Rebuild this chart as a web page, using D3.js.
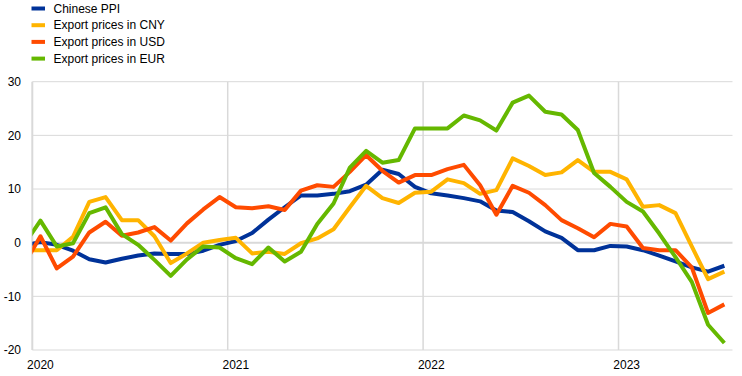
<!DOCTYPE html>
<html>
  <head>
    <meta charset="utf-8" />
    <script src="https://cdn.jsdelivr.net/npm/d3@7"></script>
    <style>
      body { margin: 0; background: #fff; }
      text { font-family: "Liberation Sans", Arial, sans-serif; font-size: 12px; fill: #000; }
      .grid line { stroke: #d9d9d9; }
      .line { fill: none; stroke-width: 4; stroke-linejoin: round; }
    </style>
  </head>
  <body>
    <div id="chart"></div>
    <script type="text/javascript">
// monthly, Dec 2019 .. Jul 2023 (Dec 2019 is only there so the line enters the left edge)
var months = d3.timeMonth.range(new Date(2019, 11, 1), new Date(2023, 7, 1));
var yearTicks = ["2020", "2021", "2022", "2023"];
var yTicks = [-20, -10, 0, 10, 20, 30];

var seriesNames = ["Chinese PPI", "Export prices in CNY", "Export prices in USD", "Export prices in EUR"];
var colors = ["#003299", "#ffb400", "#ff4b00", "#65b800"];

var ppi = [-0.5, 0.1, -0.4, -1.5, -3.1, -3.7, -3.0, -2.4, -2.0, -2.1, -2.1, -1.5, -0.4,
  0.3, 1.8, 4.3, 6.6, 8.8, 8.8, 9.1, 9.6, 10.8, 13.6, 12.8, 10.4,
  9.2, 8.8, 8.3, 7.7, 6.0, 5.7, 4.0, 2.1, 0.9, -1.4, -1.4, -0.6,
  -0.7, -1.4, -2.4, -3.5, -4.6, -5.4, -4.3];
var cny = [-1.4, -1.4, -1.4, 1.1, 7.6, 8.5, 4.2, 4.2, 1.2, -3.8, -2.0, 0.0, 0.5,
  0.9, -2.0, -1.7, -2.1, -0.1, 0.8, 2.5, 6.6, 10.6, 8.3, 7.4, 9.3,
  9.5, 11.8, 11.1, 9.1, 9.8, 15.7, 14.3, 12.6, 13.1, 15.4, 13.2, 13.2,
  11.8, 6.7, 7.0, 5.5, -0.7, -6.8, -5.4];
var usd = [-4.0, 1.2, -4.8, -2.6, 1.9, 3.9, 1.3, 1.9, 2.9, 0.4, 3.6, 6.2, 8.5,
  6.6, 6.4, 6.8, 6.1, 9.7, 10.7, 10.4, 13.2, 16.3, 13.4, 11.2, 12.6,
  12.6, 13.7, 14.5, 10.7, 5.2, 10.6, 9.3, 7.0, 4.2, 2.7, 1.0, 3.5,
  3.0, -1.0, -1.4, -1.4, -4.6, -13.1, -11.5];
var eur = [-0.3, 4.1, -0.7, -0.1, 5.5, 6.6, 1.6, -0.4, -3.2, -6.2, -3.1, -0.7, -0.9,
  -2.9, -4.0, -0.9, -3.5, -1.7, 3.5, 7.3, 14.0, 17.1, 14.9, 15.4, 21.3,
  21.3, 21.3, 23.7, 22.8, 20.9, 26.1, 27.4, 24.4, 23.9, 21.0, 13.0, 10.4,
  7.6, 5.8, 1.7, -2.7, -7.3, -15.3, -18.7];

var width = 742, height = 376;
var plotLeft = 32.3, plotRight = 732.5, plotTop = 81.7, plotBottom = 350;

var svg = d3.select("#chart").append("svg")
  .attr("width", width)
  .attr("height", height);

// month index 0 = Jan 2020; points sit in the middle of each month slot
var x = d3.scaleLinear().domain([0, 43]).range([plotLeft, plotRight]);
var y = d3.scaleLinear().domain([-20, 30]).range([plotBottom, plotTop]);
var xm = function(i) { return x(i - 1 + 0.5); };

svg.append("defs").append("clipPath").attr("id", "plot")
  .append("rect")
    .attr("x", plotLeft).attr("y", 0)
    .attr("width", plotRight - plotLeft).attr("height", height);

var grid = svg.append("g").attr("class", "grid");
grid.selectAll(".h").data(yTicks).enter().append("line")
  .attr("x1", plotLeft).attr("x2", plotRight)
  .attr("y1", function(d) { return y(d); })
  .attr("y2", function(d) { return y(d); })
  .attr("stroke-width", function(d) { return d === 0 ? 2 : 1; });
grid.selectAll(".v").data(yearTicks).enter().append("line")
  .attr("x1", function(d, i) { return x(i * 12); })
  .attr("x2", function(d, i) { return x(i * 12); })
  .attr("y1", plotTop).attr("y2", plotBottom)
  .attr("stroke-width", function(d, i) { return i === 0 ? 2 : 1.5; });

// y labels
svg.selectAll(".ylab").data(yTicks).enter().append("text")
  .attr("x", 21)
  .attr("y", function(d) { return y(d); })
  .attr("dy", "0.35em")
  .attr("text-anchor", "end")
  .text(function(d) { return d; });

// year labels, centred on January
svg.selectAll(".xlab").data(yearTicks).enter().append("text")
  .attr("x", function(d, i) { return x(i * 12 + 0.5); })
  .attr("y", 369)
  .attr("text-anchor", "middle")
  .text(function(d) { return d; });

var line = d3.line()
  .x(function(d, i) { return xm(i); })
  .y(function(d) { return y(d); });

var series = [ppi, cny, usd, eur];
// draw order: blue first, then yellow, orange, green on top
svg.append("g").attr("clip-path", "url(#plot)")
  .selectAll("path").data(series).enter().append("path")
    .attr("class", "line")
    .attr("stroke", function(d, i) { return colors[i]; })
    .attr("d", line);

// legend
var leg = svg.selectAll(".leg").data(seriesNames).enter().append("g")
  .attr("transform", function(d, i) { return "translate(0," + (8.5 + i * 16.7) + ")"; });
leg.append("line")
  .attr("x1", 31.5).attr("x2", 45)
  .attr("stroke", function(d, i) { return colors[i]; })
  .attr("stroke-width", 4);
leg.append("text")
  .attr("x", 53.5)
  .attr("dy", "0.35em")
  .text(function(d) { return d; });
    </script>
  </body>
</html>
